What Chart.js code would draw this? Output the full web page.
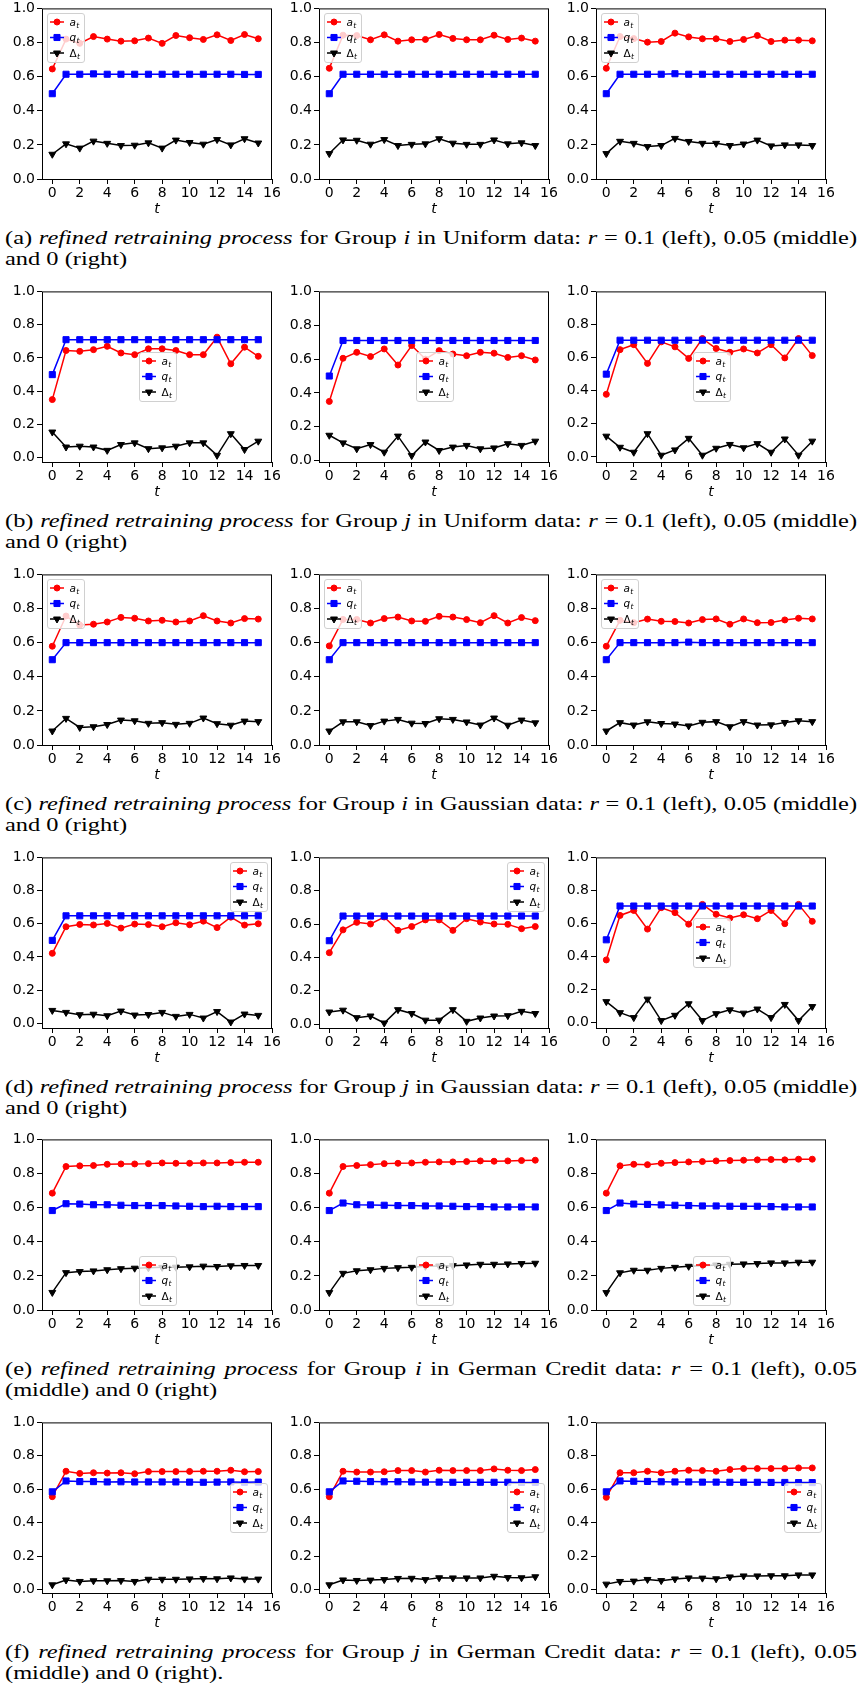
<!DOCTYPE html>
<html>
<head>
<meta charset="utf-8">
<script src="https://cdn.jsdelivr.net/npm/chart.js@4/dist/chart.umd.min.js"></script>
<style>
  html, body { margin: 0; padding: 0; background: #fff; }
  body { width: 859px; height: 1692px; position: relative; overflow: hidden; }
  canvas.panel { position: absolute; }
  .cap { position: absolute; font-family: 'Liberation Serif', serif; font-size: 19px; line-height: 21px; color: #000; }
  .cap div { transform-origin: 0 0; white-space: nowrap; }
  .cap .l1 { white-space: normal; text-align: justify; text-align-last: justify; }
</style>
</head>
<body>
<script>
// time steps and axis ticks shared by every panel
const tSteps = [0, 1, 2, 3, 4, 5, 6, 7, 8, 9, 10, 11, 12, 13, 14, 15];
const xTicks = [0, 2, 4, 6, 8, 10, 12, 14, 16];
const yTicks = [0, 0.2, 0.4, 0.6, 0.8, 1.0];
const seriesNames = ['a', 'q', 'Δ'];

// (a) Uniform data, group i, r = 0.1 / 0.05 / 0
const aUniI_r10 = [0.645, 0.82, 0.795, 0.835, 0.82, 0.808, 0.81, 0.826, 0.795, 0.841, 0.828, 0.818, 0.845, 0.812, 0.847, 0.822];
const qUniI_r10 = [0.5, 0.614, 0.614, 0.616, 0.614, 0.614, 0.614, 0.614, 0.614, 0.614, 0.614, 0.614, 0.614, 0.614, 0.613, 0.613];
const dUniI_r10 = [0.145, 0.206, 0.181, 0.222, 0.209, 0.196, 0.198, 0.212, 0.181, 0.228, 0.214, 0.204, 0.231, 0.2, 0.236, 0.211];
const aUniI_r05 = [0.649, 0.843, 0.841, 0.816, 0.845, 0.808, 0.816, 0.818, 0.847, 0.824, 0.816, 0.816, 0.843, 0.818, 0.826, 0.808];
const qUniI_r05 = [0.5, 0.614, 0.614, 0.614, 0.614, 0.614, 0.614, 0.614, 0.614, 0.614, 0.614, 0.614, 0.614, 0.614, 0.614, 0.614];
const dUniI_r05 = [0.149, 0.229, 0.227, 0.204, 0.231, 0.196, 0.203, 0.206, 0.236, 0.21, 0.203, 0.203, 0.229, 0.206, 0.212, 0.196];
const aUniI_r00 = [0.649, 0.835, 0.823, 0.802, 0.806, 0.855, 0.833, 0.822, 0.822, 0.806, 0.818, 0.841, 0.806, 0.814, 0.814, 0.81];
const qUniI_r00 = [0.5, 0.614, 0.614, 0.614, 0.614, 0.617, 0.614, 0.614, 0.614, 0.614, 0.614, 0.614, 0.614, 0.614, 0.614, 0.614];
const dUniI_r00 = [0.149, 0.221, 0.209, 0.19, 0.196, 0.238, 0.22, 0.209, 0.209, 0.196, 0.205, 0.228, 0.194, 0.2, 0.2, 0.196];

// (b) Uniform data, group j
const aUniJ_r10 = [0.35, 0.645, 0.64, 0.65, 0.67, 0.63, 0.62, 0.655, 0.655, 0.645, 0.62, 0.62, 0.725, 0.565, 0.665, 0.61];
const qUniJ_r10 = [0.5, 0.71, 0.71, 0.71, 0.71, 0.71, 0.71, 0.71, 0.71, 0.71, 0.71, 0.71, 0.71, 0.71, 0.71, 0.71];
const dUniJ_r10 = [0.155, 0.065, 0.07, 0.065, 0.045, 0.08, 0.09, 0.055, 0.06, 0.07, 0.09, 0.09, 0.015, 0.145, 0.05, 0.1];
const aUniJ_r05 = [0.35, 0.605, 0.64, 0.615, 0.66, 0.565, 0.68, 0.6, 0.65, 0.63, 0.62, 0.64, 0.635, 0.61, 0.62, 0.595];
const qUniJ_r05 = [0.5, 0.71, 0.71, 0.71, 0.71, 0.71, 0.71, 0.71, 0.71, 0.71, 0.71, 0.71, 0.71, 0.71, 0.71, 0.71];
const dUniJ_r05 = [0.15, 0.105, 0.07, 0.095, 0.05, 0.145, 0.03, 0.11, 0.06, 0.08, 0.09, 0.07, 0.075, 0.1, 0.09, 0.115];
const aUniJ_r00 = [0.378, 0.648, 0.678, 0.565, 0.695, 0.665, 0.595, 0.715, 0.655, 0.632, 0.652, 0.628, 0.678, 0.598, 0.715, 0.612];
const qUniJ_r00 = [0.5, 0.705, 0.705, 0.705, 0.705, 0.705, 0.705, 0.705, 0.705, 0.705, 0.705, 0.705, 0.705, 0.705, 0.705, 0.705];
const dUniJ_r00 = [0.125, 0.058, 0.028, 0.14, 0.01, 0.042, 0.112, 0.01, 0.052, 0.075, 0.055, 0.08, 0.028, 0.108, 0.01, 0.095];

// (c) Gaussian data, group i
const aGauI_r10 = [0.579, 0.756, 0.703, 0.708, 0.721, 0.748, 0.743, 0.727, 0.731, 0.721, 0.727, 0.758, 0.727, 0.715, 0.741, 0.738];
const qGauI_r10 = [0.5, 0.6, 0.6, 0.6, 0.6, 0.6, 0.6, 0.6, 0.6, 0.6, 0.6, 0.6, 0.6, 0.6, 0.6, 0.6];
const dGauI_r10 = [0.082, 0.156, 0.103, 0.107, 0.12, 0.146, 0.142, 0.127, 0.131, 0.121, 0.127, 0.158, 0.125, 0.116, 0.14, 0.137];
const aGauI_r05 = [0.581, 0.736, 0.736, 0.715, 0.741, 0.75, 0.727, 0.725, 0.754, 0.75, 0.735, 0.717, 0.758, 0.715, 0.747, 0.729];
const qGauI_r05 = [0.5, 0.6, 0.6, 0.6, 0.6, 0.6, 0.6, 0.6, 0.6, 0.6, 0.6, 0.6, 0.6, 0.6, 0.6, 0.6];
const dGauI_r05 = [0.082, 0.136, 0.136, 0.114, 0.14, 0.15, 0.128, 0.126, 0.154, 0.15, 0.135, 0.117, 0.158, 0.116, 0.146, 0.13];
const aGauI_r00 = [0.579, 0.731, 0.717, 0.738, 0.725, 0.724, 0.715, 0.735, 0.739, 0.708, 0.739, 0.717, 0.718, 0.733, 0.743, 0.739];
const qGauI_r00 = [0.5, 0.6, 0.6, 0.6, 0.6, 0.6, 0.603, 0.6, 0.6, 0.6, 0.6, 0.6, 0.6, 0.6, 0.6, 0.6];
const dGauI_r00 = [0.082, 0.131, 0.117, 0.136, 0.126, 0.123, 0.112, 0.133, 0.137, 0.107, 0.137, 0.117, 0.118, 0.132, 0.142, 0.137];

// (d) Gaussian data, group j
const aGauJ_r10 = [0.422, 0.582, 0.596, 0.593, 0.602, 0.574, 0.598, 0.595, 0.582, 0.606, 0.594, 0.616, 0.577, 0.64, 0.592, 0.6];
const qGauJ_r10 = [0.5, 0.648, 0.648, 0.648, 0.648, 0.648, 0.648, 0.648, 0.648, 0.648, 0.648, 0.648, 0.648, 0.648, 0.648, 0.648];
const dGauJ_r10 = [0.078, 0.066, 0.052, 0.055, 0.046, 0.074, 0.05, 0.053, 0.066, 0.042, 0.054, 0.032, 0.071, 0.008, 0.056, 0.048];
const aGauJ_r05 = [0.428, 0.565, 0.61, 0.6, 0.642, 0.562, 0.585, 0.625, 0.625, 0.562, 0.632, 0.612, 0.6, 0.598, 0.572, 0.585];
const qGauJ_r05 = [0.5, 0.648, 0.648, 0.648, 0.648, 0.648, 0.648, 0.648, 0.648, 0.648, 0.648, 0.648, 0.648, 0.648, 0.648, 0.648];
const dGauJ_r05 = [0.072, 0.083, 0.038, 0.048, 0.006, 0.086, 0.063, 0.023, 0.023, 0.086, 0.016, 0.036, 0.048, 0.05, 0.076, 0.063];
const aGauJ_r00 = [0.378, 0.648, 0.678, 0.565, 0.695, 0.665, 0.595, 0.715, 0.655, 0.632, 0.652, 0.628, 0.678, 0.598, 0.715, 0.612];
const qGauJ_r00 = [0.5, 0.705, 0.705, 0.705, 0.705, 0.705, 0.705, 0.705, 0.705, 0.705, 0.705, 0.705, 0.705, 0.705, 0.705, 0.705];
const dGauJ_r00 = [0.125, 0.058, 0.028, 0.14, 0.01, 0.042, 0.112, 0.01, 0.052, 0.075, 0.055, 0.08, 0.028, 0.108, 0.01, 0.095];

// (e) German Credit data, group i
const aGerI_r10 = [0.685, 0.841, 0.845, 0.847, 0.854, 0.856, 0.856, 0.858, 0.862, 0.86, 0.86, 0.862, 0.862, 0.864, 0.866, 0.866];
const qGerI_r10 = [0.583, 0.623, 0.621, 0.617, 0.617, 0.614, 0.612, 0.612, 0.612, 0.61, 0.608, 0.606, 0.608, 0.606, 0.606, 0.606];
const dGerI_r10 = [0.103, 0.219, 0.225, 0.229, 0.236, 0.242, 0.245, 0.247, 0.25, 0.251, 0.253, 0.257, 0.255, 0.259, 0.261, 0.261];
const aGerI_r05 = [0.685, 0.841, 0.847, 0.852, 0.858, 0.86, 0.862, 0.866, 0.868, 0.868, 0.87, 0.874, 0.872, 0.874, 0.876, 0.878];
const qGerI_r05 = [0.583, 0.627, 0.617, 0.616, 0.614, 0.612, 0.612, 0.61, 0.61, 0.608, 0.606, 0.606, 0.604, 0.604, 0.604, 0.604];
const dGerI_r05 = [0.102, 0.215, 0.23, 0.236, 0.244, 0.248, 0.25, 0.256, 0.258, 0.26, 0.264, 0.268, 0.268, 0.27, 0.272, 0.274];
const aGerI_r00 = [0.685, 0.845, 0.854, 0.852, 0.86, 0.864, 0.868, 0.87, 0.874, 0.876, 0.878, 0.88, 0.882, 0.88, 0.884, 0.884];
const qGerI_r00 = [0.583, 0.627, 0.621, 0.619, 0.616, 0.614, 0.612, 0.61, 0.61, 0.608, 0.608, 0.608, 0.606, 0.604, 0.604, 0.604];
const dGerI_r00 = [0.102, 0.218, 0.233, 0.233, 0.244, 0.25, 0.256, 0.26, 0.264, 0.268, 0.27, 0.272, 0.276, 0.276, 0.28, 0.28];

// (f) German Credit data, group j
const aGerJ_r10 = [0.556, 0.708, 0.695, 0.699, 0.697, 0.699, 0.693, 0.706, 0.706, 0.706, 0.707, 0.708, 0.708, 0.714, 0.705, 0.706];
const qGerJ_r10 = [0.585, 0.65, 0.646, 0.646, 0.644, 0.645, 0.644, 0.644, 0.644, 0.644, 0.643, 0.642, 0.643, 0.644, 0.642, 0.643];
const dGerJ_r10 = [0.029, 0.058, 0.049, 0.053, 0.053, 0.054, 0.049, 0.062, 0.062, 0.062, 0.064, 0.066, 0.065, 0.07, 0.063, 0.063];
const aGerJ_r05 = [0.556, 0.708, 0.703, 0.703, 0.705, 0.712, 0.712, 0.703, 0.714, 0.712, 0.712, 0.712, 0.722, 0.714, 0.712, 0.718];
const qGerJ_r05 = [0.585, 0.65, 0.648, 0.646, 0.645, 0.645, 0.644, 0.643, 0.643, 0.642, 0.642, 0.642, 0.642, 0.642, 0.641, 0.641];
const dGerJ_r05 = [0.029, 0.058, 0.055, 0.057, 0.06, 0.067, 0.068, 0.06, 0.071, 0.07, 0.07, 0.07, 0.08, 0.072, 0.071, 0.077];
const aGerJ_r00 = [0.552, 0.699, 0.699, 0.708, 0.699, 0.708, 0.714, 0.712, 0.708, 0.718, 0.724, 0.724, 0.724, 0.724, 0.728, 0.728];
const qGerJ_r00 = [0.585, 0.65, 0.648, 0.647, 0.645, 0.644, 0.644, 0.643, 0.643, 0.642, 0.642, 0.642, 0.641, 0.641, 0.64, 0.64];
const dGerJ_r00 = [0.033, 0.049, 0.051, 0.061, 0.054, 0.064, 0.07, 0.069, 0.065, 0.076, 0.082, 0.082, 0.083, 0.083, 0.088, 0.088];

const captions = [
  ['(a) <i>refined retraining process</i> for Group <i>i</i> in Uniform data: <i>r</i> = 0.1 (left), 0.05 (middle)', 'and 0 (right)'],
  ['(b) <i>refined retraining process</i> for Group <i>j</i> in Uniform data: <i>r</i> = 0.1 (left), 0.05 (middle)', 'and 0 (right)'],
  ['(c) <i>refined retraining process</i> for Group <i>i</i> in Gaussian data: <i>r</i> = 0.1 (left), 0.05 (middle)', 'and 0 (right)'],
  ['(d) <i>refined retraining process</i> for Group <i>j</i> in Gaussian data: <i>r</i> = 0.1 (left), 0.05 (middle)', 'and 0 (right)'],
  ['(e) <i>refined retraining process</i> for Group <i>i</i> in German Credit data: <i>r</i> = 0.1 (left), 0.05', '(middle) and 0 (right)'],
  ['(f) <i>refined retraining process</i> for Group <i>j</i> in German Credit data: <i>r</i> = 0.1 (left), 0.05', '(middle) and 0 (right).']
];

// one entry per subplot, row by row
const panels = [
  { series: [aUniI_r10, qUniI_r10, dUniI_r10], yMin: 0, legend: 'upper left' },
  { series: [aUniI_r05, qUniI_r05, dUniI_r05], yMin: 0, legend: 'upper left' },
  { series: [aUniI_r00, qUniI_r00, dUniI_r00], yMin: 0, legend: 'upper left' },
  { series: [aUniJ_r10, qUniJ_r10, dUniJ_r10], yMin: -0.025, legend: 'center' },
  { series: [aUniJ_r05, qUniJ_r05, dUniJ_r05], yMin: -0.008, legend: 'center' },
  { series: [aUniJ_r00, qUniJ_r00, dUniJ_r00], yMin: -0.031, legend: 'center' },
  { series: [aGauI_r10, qGauI_r10, dGauI_r10], yMin: 0, legend: 'upper left' },
  { series: [aGauI_r05, qGauI_r05, dGauI_r05], yMin: 0, legend: 'upper left' },
  { series: [aGauI_r00, qGauI_r00, dGauI_r00], yMin: 0, legend: 'upper left' },
  { series: [aGauJ_r10, qGauJ_r10, dGauJ_r10], yMin: -0.028, legend: 'upper right' },
  { series: [aGauJ_r05, qGauJ_r05, dGauJ_r05], yMin: -0.024, legend: 'upper right' },
  { series: [aGauJ_r00, qGauJ_r00, dGauJ_r00], yMin: -0.035, legend: 'center' },
  { series: [aGerI_r10, qGerI_r10, dGerI_r10], yMin: 0, legend: 'lower center' },
  { series: [aGerI_r05, qGerI_r05, dGerI_r05], yMin: 0, legend: 'lower center' },
  { series: [aGerI_r00, qGerI_r00, dGerI_r00], yMin: 0, legend: 'lower center' },
  { series: [aGerJ_r10, qGerJ_r10, dGerJ_r10], yMin: -0.02, legend: 'center right' },
  { series: [aGerJ_r05, qGerJ_r05, dGerJ_r05], yMin: -0.02, legend: 'center right' },
  { series: [aGerJ_r00, qGerJ_r00, dGerJ_r00], yMin: -0.02, legend: 'center right' }
];

// page geometry
const ROW_TOP = [8, 291, 574, 857, 1139, 1422];
const COL_LEFT = [42, 319, 596];
const PLOT_W = 230, PLOT_H = 171;
const PAD_TOP = 10, AXIS_W = 40, PAD_RIGHT = 14, AXIS_H = 42;
const CAP_LEFT = 5, CAP_RIGHT = 857;

const lineStyles = [
  { color: '#ff0000', pointStyle: 'circle', radius: 3, rotation: 0, order: 3 },
  { color: '#0000ff', pointStyle: 'rect', radius: 4.3, rotation: 0, order: 2 },
  { color: '#000000', pointStyle: 'triangle', radius: 4, rotation: 180, order: 1 }
];

Chart.defaults.font.family = '"DejaVu Sans", sans-serif';
Chart.defaults.color = '#000';

// closed box around the axes, drawn over the lines like matplotlib spines
const framePlugin = {
  id: 'frame',
  afterDatasetsDraw(chart) {
    const { ctx, chartArea: a } = chart;
    ctx.save();
    ctx.strokeStyle = '#000';
    ctx.lineWidth = 1;
    ctx.strokeRect(a.left + 0.5, a.top + 0.5, a.right - a.left - 1, a.bottom - a.top);
    ctx.restore();
  }
};

// small legend box with subscripted labels (a_t, q_t, Δ_t)
const boxLegend = {
  id: 'boxLegend',
  afterDraw(chart, args, opts) {
    const { ctx, chartArea: a } = chart;
    const w = 37, h = 49, pad = 5;
    const loc = opts.loc;
    let x, y;
    if (loc.includes('left')) x = a.left + pad;
    else if (loc.includes('right')) x = a.right - pad - w;
    else x = (a.left + a.right - w) / 2;
    if (loc.startsWith('upper')) y = a.top + pad;
    else if (loc.startsWith('lower')) y = a.bottom - pad - h;
    else y = (a.top + a.bottom - h) / 2;
    x = Math.round(x) + 0.5;
    y = Math.round(y) + 0.5;

    ctx.save();
    ctx.beginPath();
    ctx.roundRect(x, y, w, h, 2.5);
    ctx.fillStyle = 'rgba(255,255,255,0.8)';
    ctx.fill();
    ctx.strokeStyle = '#d0d0d0';
    ctx.lineWidth = 1;
    ctx.stroke();

    chart.data.datasets.forEach((ds, i) => {
      const cy = y + 8.5 + i * 15.5;
      ctx.strokeStyle = ds.borderColor;
      ctx.fillStyle = ds.backgroundColor;
      ctx.lineWidth = 1.5;
      ctx.beginPath();
      ctx.moveTo(x + 2.5, cy);
      ctx.lineTo(x + 16.5, cy);
      ctx.stroke();
      ctx.lineWidth = 1;
      Chart.helpers.drawPoint(ctx, {
        pointStyle: ds.pointStyle, rotation: ds.pointRotation, radius: ds.pointRadius, borderWidth: 1
      }, x + 9.5, cy);

      const tx = x + 22;
      const base = cy + 3.5;
      ctx.fillStyle = '#000';
      ctx.textBaseline = 'alphabetic';
      ctx.textAlign = 'left';
      ctx.font = (i === 2 ? '' : 'italic ') + '10.5px "DejaVu Sans"';
      ctx.fillText(ds.label, tx, base);
      const lw = ctx.measureText(ds.label).width;
      ctx.font = 'italic 7.5px "DejaVu Sans"';
      ctx.fillText('t', tx + lw + 0.3, base + 2.2);
    });
    ctx.restore();
  }
};

panels.forEach((p, k) => {
  const row = Math.floor(k / 3), col = k % 3;
  const cv = document.createElement('canvas');
  cv.className = 'panel';
  cv.width = AXIS_W + PLOT_W + PAD_RIGHT;
  cv.height = PAD_TOP + PLOT_H + AXIS_H;
  cv.style.left = (COL_LEFT[col] - AXIS_W) + 'px';
  cv.style.top = (ROW_TOP[row] - PAD_TOP) + 'px';
  document.body.appendChild(cv);

  const datasets = p.series.map((values, i) => {
    const st = lineStyles[i];
    return {
      label: seriesNames[i],
      data: tSteps.map((t, j) => ({ x: t, y: values[j] })),
      borderColor: st.color,
      backgroundColor: st.color,
      borderWidth: 1.5,
      pointStyle: st.pointStyle,
      pointRadius: st.radius,
      pointRotation: st.rotation,
      pointBorderWidth: 1,
      pointBackgroundColor: st.color,
      pointBorderColor: st.color,
      tension: 0,
      order: st.order
    };
  });

  const tickFont = { family: '"DejaVu Sans"', size: 14 };

  new Chart(cv, {
    type: 'line',
    data: { datasets },
    options: {
      responsive: false,
      animation: false,
      events: [],
      layout: { padding: { top: PAD_TOP, right: PAD_RIGHT, left: 0, bottom: 0 } },
      scales: {
        x: {
          type: 'linear',
          min: -0.75,
          max: 16,
          afterBuildTicks: s => { s.ticks = xTicks.map(v => ({ value: v })); },
          afterFit: s => { s.height = AXIS_H; },
          ticks: { font: tickFont, color: '#000', padding: 1, maxRotation: 0, autoSkip: false, callback: v => String(v) },
          grid: { drawOnChartArea: false, drawTicks: true, tickLength: 5, tickColor: '#000', tickWidth: 1 },
          border: { display: false },
          title: {
            display: true,
            text: 't',
            color: '#000',
            font: { family: '"DejaVu Sans"', size: 14, style: 'italic' },
            padding: { top: 0, bottom: 3 }
          }
        },
        y: {
          min: p.yMin,
          max: 1.0,
          afterBuildTicks: s => { s.ticks = yTicks.map(v => ({ value: v })); },
          afterFit: s => { s.width = AXIS_W; },
          ticks: { font: tickFont, color: '#000', padding: 2, callback: v => v.toFixed(1) },
          grid: { drawOnChartArea: false, drawTicks: true, tickLength: 5, tickColor: '#000', tickWidth: 1 },
          border: { display: false }
        }
      },
      plugins: {
        legend: { display: false },
        tooltip: { enabled: false },
        boxLegend: { loc: p.legend }
      }
    },
    plugins: [framePlugin, boxLegend]
  });
});

// captions: the justified first line sets a common horizontal stretch
const probe = document.createElement('span');
probe.style.cssText = 'position:absolute;visibility:hidden;white-space:nowrap;font-family:"Liberation Serif";font-size:19px;';
document.body.appendChild(probe);
const natural = captions.map(c => { probe.innerHTML = c[0]; return probe.getBoundingClientRect().width; });
probe.remove();
const boxW = Math.ceil(Math.max(...natural)) + 2;
const stretch = (CAP_RIGHT - CAP_LEFT) / boxW;

captions.forEach((c, r) => {
  const cap = document.createElement('div');
  cap.className = 'cap';
  cap.style.left = CAP_LEFT + 'px';
  cap.style.top = (ROW_TOP[r] + PLOT_H + 48) + 'px';
  const l1 = document.createElement('div');
  l1.className = 'l1';
  l1.style.width = boxW + 'px';
  l1.style.transform = 'scaleX(' + stretch + ')';
  l1.innerHTML = c[0];
  const l2 = document.createElement('div');
  l2.style.transform = 'scaleX(' + stretch + ')';
  l2.innerHTML = c[1];
  cap.appendChild(l1);
  cap.appendChild(l2);
  document.body.appendChild(cap);
});
</script>
</body>
</html>
